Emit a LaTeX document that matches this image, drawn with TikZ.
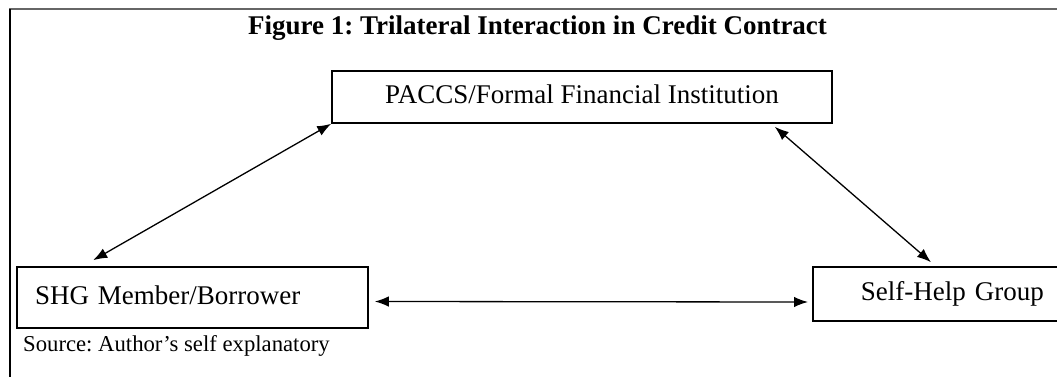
\documentclass[tikz,border=0pt]{standalone}
\usepackage{fontspec}
\setmainfont{Liberation Serif}
\usetikzlibrary{arrows.meta}
\tikzset{>={Latex[length=14pt,width=10.5pt]}}
\tikzset{
	partybox/.style={draw, line width=1.6pt, inner ysep=0pt, text height=19pt, text depth=6pt, font=\fontsize{27}{32}\selectfont},
	link/.style={<->, line width=1.3pt}
}

\begin{document}
\frenchspacing
\begin{tikzpicture}[x=1pt, y=-1pt]
	\clip (0,0) rectangle (1057,377);
	\draw [color = gray!80!black, line width = 1.2pt] (9,9) -- (1057,9);
	\draw [line width = 2.6pt] (10,9) -- (10,377);
	\node (title) at (537.5,35) [anchor=base] {\fontsize{27}{32}\selectfont\bfseries Figure 1: Trilateral Interaction in Credit Contract};
	\node (fin) at (582,97) [partybox, minimum width=500pt, minimum height=52pt] {PACCS/Formal Financial Institution};
	\node (member) at (192.5,297.5) [partybox, text width=315pt, align=left, inner xsep=18pt, minimum height=61pt] {SHG Member/Borrower};
	\node (shg) at (812,294) [partybox, anchor=west, text width=220pt, align=left, inner xsep=48pt, minimum height=54pt] {Self-Help Group};
	\node (source) at (23,351) [anchor=base west, inner sep=0pt] {\fontsize{22.7}{27}\selectfont Source: Author’s self explanatory};
	\draw [link] (fin.south west) -- ([xshift=77pt, yshift=6pt]member.north west);
	\draw [link] ([xshift=-58pt, yshift=-3pt]fin.south east) -- ([xshift=119pt, yshift=4pt]shg.north west);
	\draw [link] ([xshift=6pt, yshift=-4pt]member.east) -- ([xshift=-4pt, yshift=-8pt]shg.west);
\end{tikzpicture}
\end{document}
